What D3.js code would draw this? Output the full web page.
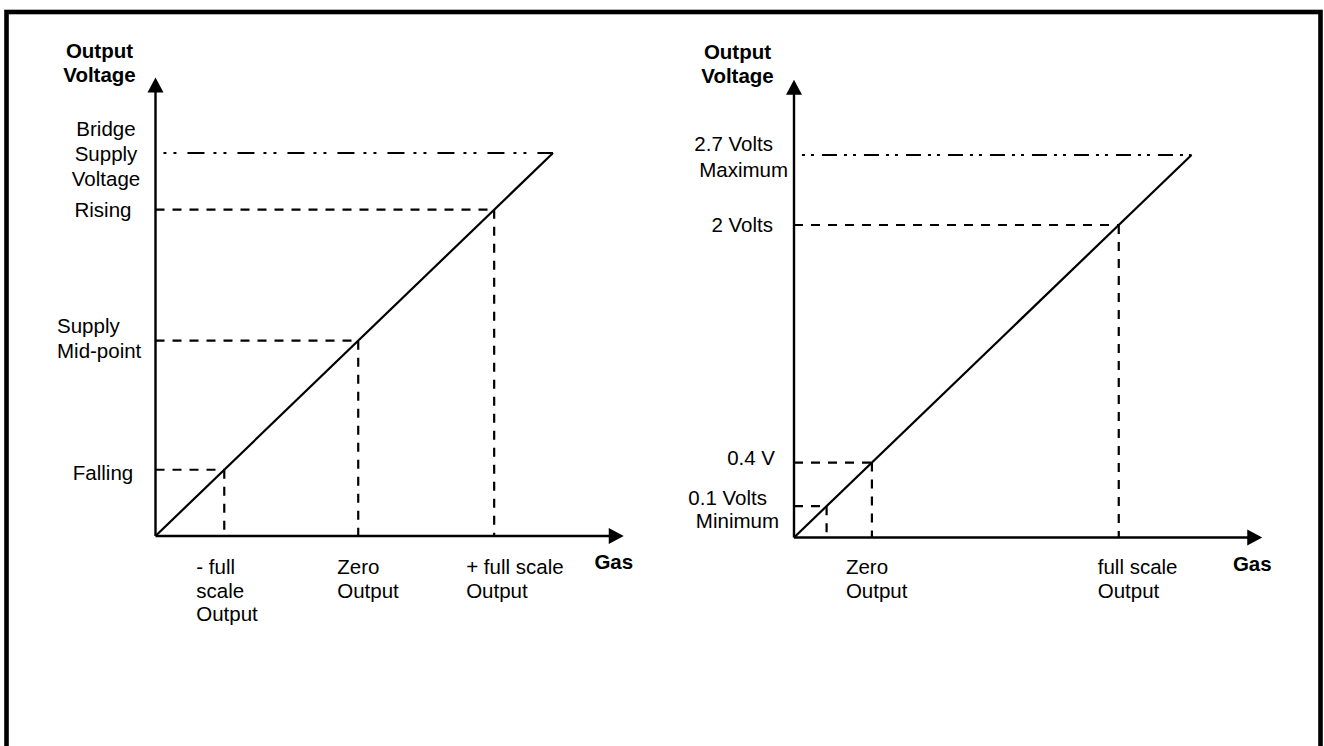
<!DOCTYPE html>
<html><head><meta charset="utf-8">
<script src="https://cdn.jsdelivr.net/npm/d3@7"></script>
<style>
body{margin:0;background:#fff;overflow:hidden}
text{font-family:"Liberation Sans",Arial,Helvetica,sans-serif;font-size:20.5px;fill:#000}
</style>
</head><body>
<svg id="c" width="1324" height="746"></svg>
<script>
// ---- data (schematic units: the transfer line runs from 0 to 100 on both axes) ----
const yAxisTitle = ["Output", "Voltage"];
const xAxisTitle = "Gas";
const supplyLevel = 100;
const xMax = 117.8;
const yMax = 119.7;

const leftSupplyLabel = ["Bridge", "Supply", "Voltage"];
const leftLevels = [17.3, 51, 85.2];
const leftLevelLabels = [["Falling"], ["Supply", "Mid-point"], ["Rising"]];
const leftGasLabels = [["- full", "scale", "Output"], ["Zero", "Output"], ["+ full scale", "Output"]];

const rightSupplyLabel = ["2.7 Volts", "Maximum"];
const rightLevels = [8.2, 19.6, 81.7];
const rightLevelLabels = [["0.1 Volts", "Minimum"], ["0.4 V"], ["2 Volts"]];
const rightGasLabels = [null, ["Zero", "Output"], ["full scale", "Output"]];

const panels = [
  {supply: leftSupplyLabel, levels: leftLevels, levelLabels: leftLevelLabels, gasLabels: leftGasLabels},
  {supply: rightSupplyLabel, levels: rightLevels, levelLabels: rightLevelLabels, gasLabels: rightGasLabels}
];

// ---- layout / style ----
const layout = [
  {ox:155.5, oy:536, tx:553, ty:153, dd:[17,9,3,7,3,11],
   supply:{anchor:"middle", dx:[-49.5], dy0:-17, lh:25},
   levels:[{anchor:"middle",dx:[-52.5],dy0:10,lh:25},
           {anchor:"start",dx:[-98.5],dy0:-8,lh:25},
           {anchor:"middle",dx:[-52.5],dy0:7,lh:25}],
   gas:{dx:[-28,-21,-28], dy0:38, lh:23.7},
   title:{dx:-56, dy0:-20, lh:24}, gasTitle:{dx:-10, dy:33}},
  {ox:794, oy:537.5, tx:1191.5, ty:155, dd:[15,7,3,6,3,8],
   supply:{anchor:"end", dx:[-21,-6], dy0:-4, lh:26},
   levels:[{anchor:"end",dx:[-27,-15],dy0:-1,lh:23},
           {anchor:"end",dx:[-19],dy0:2,lh:25},
           {anchor:"end",dx:[-21],dy0:7,lh:25}],
   gas:{dx:[null,-26,-21], dy0:36.5, lh:23.7},
   title:{dx:-56.5, dy0:-21, lh:24}, gasTitle:{dx:-10, dy:33.5}}
];

const svg = d3.select("#c");

// outer frame (bottom edge lies below the visible area)
svg.append("rect").attr("x",6.5).attr("y",12).attr("width",1314).attr("height",780)
  .attr("fill","none").attr("stroke","#000").attr("stroke-width",4.6);

function lines(g, arr, x0, y0, lh, anchor, dxs, bold){
  arr.forEach((t,i)=>{
    const dx = Array.isArray(dxs) ? (dxs[i] !== undefined ? dxs[i] : dxs[0]) : dxs;
    g.append("text").attr("x", x0 + dx).attr("y", y0 + i*lh)
      .attr("text-anchor", anchor).attr("font-weight", bold ? "bold" : null).text(t);
  });
}

panels.forEach((p, k)=>{
  const L = layout[k];
  const x = d3.scaleLinear().domain([0,100]).range([L.ox, L.tx]);
  const y = d3.scaleLinear().domain([0,100]).range([L.oy, L.ty]);
  const g = svg.append("g");

  // axes with arrowheads
  const tipY = y(yMax), tipX = x(xMax);
  g.append("line").attr("x1",x(0)).attr("y1",y(0)).attr("x2",x(0)).attr("y2",tipY+12)
    .attr("stroke","#000").attr("stroke-width",2.4);
  g.append("path").attr("d",`M${x(0)},${tipY} L${x(0)-8},${tipY+15} L${x(0)+8},${tipY+15} Z`).attr("fill","#000");
  g.append("line").attr("x1",x(0)).attr("y1",y(0)).attr("x2",tipX-12).attr("y2",y(0))
    .attr("stroke","#000").attr("stroke-width",2.4);
  g.append("path").attr("d",`M${tipX},${y(0)} L${tipX-15},${y(0)-8} L${tipX-15},${y(0)+8} Z`).attr("fill","#000");

  // supply (maximum) level, dash-dot
  g.append("line").attr("x1",x(2)).attr("x2",x(100)).attr("y1",y(supplyLevel)).attr("y2",y(supplyLevel))
    .attr("stroke","#000").attr("stroke-width",2.2)
    .attr("stroke-dasharray",L.dd.join(",")).attr("stroke-dashoffset",L.dd[0]+L.dd[1]);

  // dashed guides
  p.levels.forEach(v=>{
    g.append("line").attr("x1",x(0)).attr("x2",x(v)).attr("y1",y(v)).attr("y2",y(v))
      .attr("stroke","#000").attr("stroke-width",2.2).attr("stroke-dasharray","9,8");
    g.append("line").attr("x1",x(v)).attr("x2",x(v)).attr("y1",y(v)).attr("y2",y(0))
      .attr("stroke","#000").attr("stroke-width",2.2).attr("stroke-dasharray","9,8");
  });

  // transfer line
  g.append("line").attr("x1",x(0)).attr("y1",y(0)).attr("x2",x(100)).attr("y2",y(100))
    .attr("stroke","#000").attr("stroke-width",2.2);

  // titles
  lines(g, yAxisTitle, x(0), tipY + L.title.dy0, L.title.lh, "middle", L.title.dx, true);
  lines(g, [xAxisTitle], tipX, y(0) + L.gasTitle.dy, 0, "middle", L.gasTitle.dx, true);

  // supply label
  lines(g, p.supply, x(0), y(supplyLevel) + L.supply.dy0, L.supply.lh, L.supply.anchor, L.supply.dx, false);

  // level labels
  p.levels.forEach((v,i)=>{
    const s = L.levels[i];
    lines(g, p.levelLabels[i], x(0), y(v) + s.dy0, s.lh, s.anchor, s.dx, false);
    const gl = p.gasLabels[i];
    if (gl) lines(g, gl, x(v), y(0) + L.gas.dy0, L.gas.lh, "start", L.gas.dx[i], false);
  });
});
</script>
</body></html>
